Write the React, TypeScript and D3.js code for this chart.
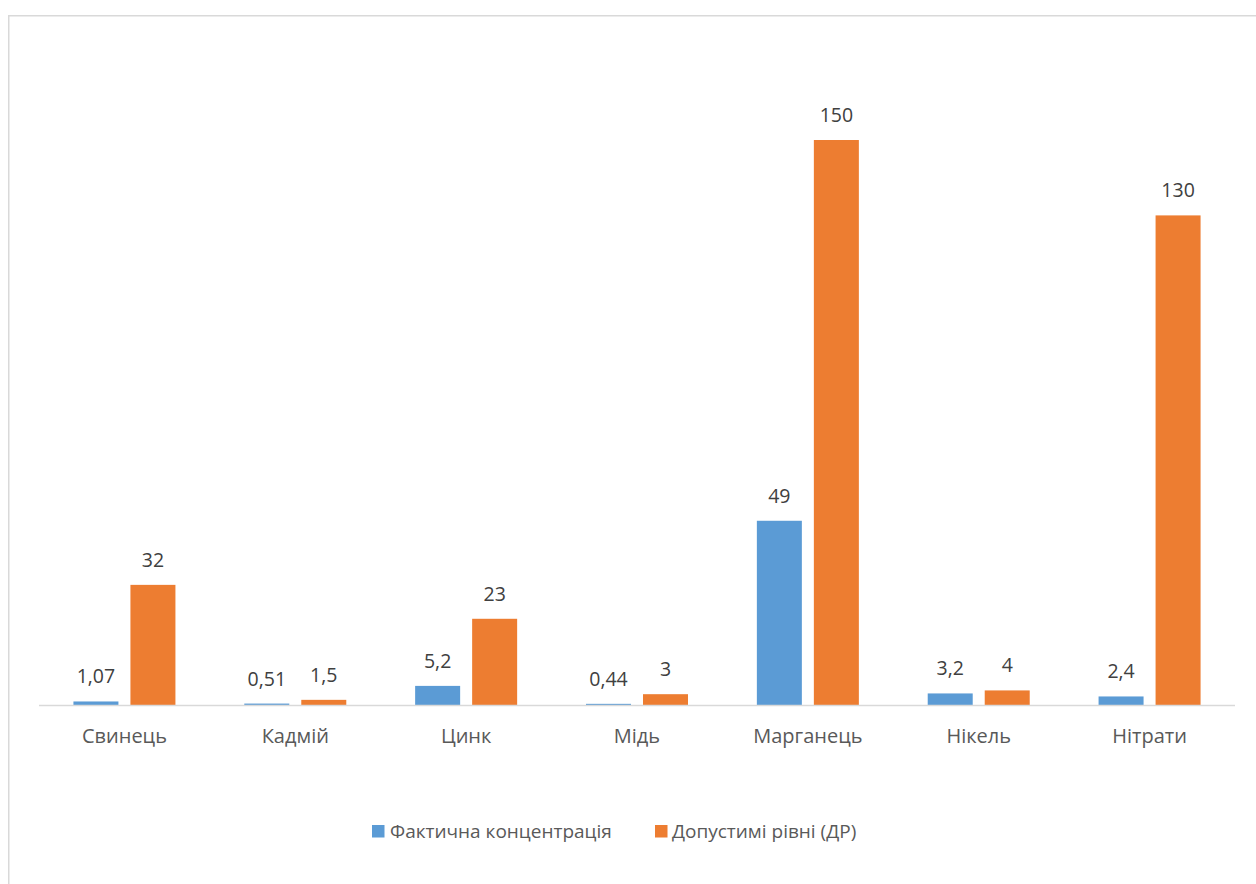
import React from "react";
import * as d3 from "d3";

const categories = ["Свинець", "Кадмій", "Цинк", "Мідь", "Марганець", "Нікель", "Нітрати"];
const seriesNames = ["Фактична концентрація", "Допустимі рівні (ДР)"];
const actualValues = [1.07, 0.51, 5.2, 0.44, 49, 3.2, 2.4];
const limitValues = [32, 1.5, 23, 3, 150, 4, 130];
const colors = ["#5B9BD5", "#ED7D31"];

const W = 1256;
const H = 884;
const FONT = "'Open Sans', 'Noto Sans', sans-serif";

export default function App() {
  const x0 = d3.scaleBand<string>().domain(categories).range([39, 1235]).paddingInner(0).paddingOuter(0);
  const x1 = d3
    .scaleBand<string>()
    .domain(seriesNames)
    .range([0, x0.bandwidth()])
    .paddingInner(12 / 57)
    .paddingOuter(0.604);
  const y = d3.scaleLinear().domain([0, 160]).range([705.5, 102.3]);
  const series = [actualValues, limitValues];
  const fmt = (v: number) => String(v).replace(".", ",");

  return (
    <svg
      width={W}
      height={H}
      style={{ position: "absolute", left: 0, top: 0, display: "block", background: "#fff" }}
    >
      <rect x={8.75} y={15.75} width={1300} height={1000} fill="#fff" stroke="#d9d9d9" strokeWidth={1.5} />
      {categories.map((c, i) =>
        series.map((vals, s) => {
          const bx = (x0(c) ?? 0) + (x1(seriesNames[s]) ?? 0);
          const by = y(vals[i]);
          return (
            <g key={c + s}>
              <rect x={bx} y={by} width={x1.bandwidth()} height={y(0) - by} fill={colors[s]} />
              <text
                x={bx + x1.bandwidth() / 2}
                y={by - 18}
                textAnchor="middle"
                fontFamily={FONT}
                fontSize={19.5}
                fill="#404040"
              >
                {fmt(vals[i])}
              </text>
            </g>
          );
        })
      )}
      <line x1={39} x2={1235} y1={705.5} y2={705.5} stroke="#d9d9d9" strokeWidth={1.5} />
      {categories.map((c) => (
        <text
          key={c}
          x={(x0(c) ?? 0) + x0.bandwidth() / 2}
          y={743}
          textAnchor="middle"
          fontFamily={FONT}
          fontSize={20}
          fill="#595959"
        >
          {c}
        </text>
      ))}
      <g>
        <rect x={372} y={825} width={12.5} height={12.5} fill={colors[0]} />
        <text x={390} y={838} fontFamily={FONT} fontSize={19} fill="#595959">
          {seriesNames[0]}
        </text>
        <rect x={655} y={825} width={12.5} height={12.5} fill={colors[1]} />
        <text x={672} y={838} fontFamily={FONT} fontSize={19} fill="#595959">
          {seriesNames[1]}
        </text>
      </g>
    </svg>
  );
}
